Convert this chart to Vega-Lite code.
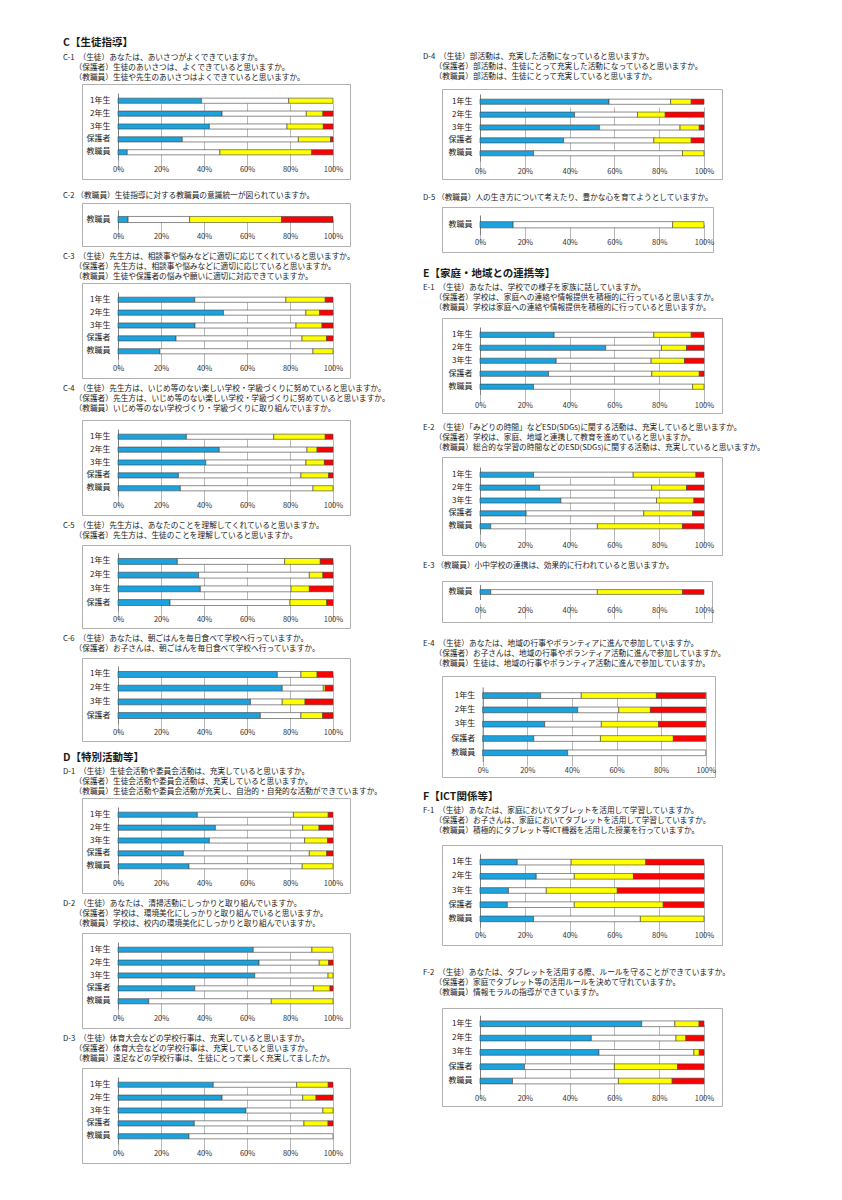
{
"$schema":"https://vega.github.io/schema/vega-lite/v6.json",
"background":"white",
"padding":{"left":62,"top":37,"right":0,"bottom":0},
"config":{
 "font":"Noto Sans CJK JP",
 "view":{"stroke":"#b0b0b0","strokeWidth":1},
 "title":{"anchor":"start","frame":"group","dx":-19,"fontSize":7.7,"lineHeight":10.3,"fontWeight":"normal","color":"#1a1a1a","offset":5,"subtitleFont":"Noto Sans CJK JP","subtitleFontSize":7.7,"subtitleLineHeight":10.3,"subtitleColor":"#1a1a1a","subtitlePadding":4},
 "axisY":{"title":null,"ticks":false,"labelPadding":8,"labelFontSize":8,"labelColor":"#1a1a1a","domainColor":"#808080","domainWidth":1,"grid":false},
 "axisX":{"title":null,"format":".0%","tickCount":5,"domain":false,"ticks":false,"tickSize":0,"labelFontSize":7.5,"labelColor":"#333333","labelFlush":false,"labelOverlap":false,"grid":true,"gridColor":"#a6a6a6","gridWidth":0.8},
 "bar":{"stroke":"#404040","strokeWidth":0.6},
 "legend":{"disable":true}
},
"datasets":{"d":[
{"q":"C-1","g":"1年生","a":38.8,"b":40.6,"c":20.6,"d":0},
{"q":"C-1","g":"2年生","a":48.4,"b":39.2,"c":7.7,"d":4.7},
{"q":"C-1","g":"3年生","a":42.5,"b":36.1,"c":16.9,"d":4.5},
{"q":"C-1","g":"保護者","a":29.9,"b":54.0,"c":15.0,"d":1.1},
{"q":"C-1","g":"教職員","a":4.3,"b":43.1,"c":42.7,"d":9.9},
{"q":"C-2","g":"教職員","a":4.7,"b":28.6,"c":42.8,"d":23.9},
{"q":"C-3","g":"1年生","a":35.7,"b":42.4,"c":18.3,"d":3.6},
{"q":"C-3","g":"2年生","a":49.1,"b":38.3,"c":6.4,"d":6.2},
{"q":"C-3","g":"3年生","a":35.8,"b":47.0,"c":12.1,"d":5.1},
{"q":"C-3","g":"保護者","a":27.0,"b":58.6,"c":11.4,"d":3.0},
{"q":"C-3","g":"教職員","a":19.5,"b":71.2,"c":9.3,"d":0},
{"q":"C-4","g":"1年生","a":31.8,"b":40.6,"c":24.0,"d":3.6},
{"q":"C-4","g":"2年生","a":47.1,"b":40.8,"c":4.7,"d":7.4},
{"q":"C-4","g":"3年生","a":40.8,"b":46.6,"c":8.6,"d":4.0},
{"q":"C-4","g":"保護者","a":28.1,"b":57.0,"c":12.9,"d":2.0},
{"q":"C-4","g":"教職員","a":29.0,"b":61.7,"c":9.3,"d":0},
{"q":"C-5","g":"1年生","a":27.6,"b":49.9,"c":16.6,"d":5.9},
{"q":"C-5","g":"2年生","a":37.5,"b":51.5,"c":6.3,"d":4.7},
{"q":"C-5","g":"3年生","a":38.3,"b":42.2,"c":8.5,"d":11.0},
{"q":"C-5","g":"保護者","a":24.2,"b":55.8,"c":17.1,"d":2.9},
{"q":"C-6","g":"1年生","a":74.1,"b":11.0,"c":7.5,"d":7.4},
{"q":"C-6","g":"2年生","a":76.4,"b":19.1,"c":0.9,"d":3.6},
{"q":"C-6","g":"3年生","a":61.6,"b":14.8,"c":10.6,"d":13.0},
{"q":"C-6","g":"保護者","a":66.2,"b":18.9,"c":10.1,"d":4.8},
{"q":"D-1","g":"1年生","a":36.9,"b":44.7,"c":16.2,"d":2.2},
{"q":"D-1","g":"2年生","a":45.3,"b":40.6,"c":7.6,"d":6.5},
{"q":"D-1","g":"3年生","a":42.5,"b":44.3,"c":10.7,"d":2.5},
{"q":"D-1","g":"保護者","a":30.4,"b":58.6,"c":8.1,"d":2.9},
{"q":"D-1","g":"教職員","a":33.0,"b":52.7,"c":14.3,"d":0},
{"q":"D-2","g":"1年生","a":62.9,"b":27.3,"c":9.8,"d":0},
{"q":"D-2","g":"2年生","a":65.6,"b":28.0,"c":4.4,"d":2.0},
{"q":"D-2","g":"3年生","a":63.6,"b":34.1,"c":2.3,"d":0},
{"q":"D-2","g":"保護者","a":35.7,"b":55.2,"c":7.7,"d":1.4},
{"q":"D-2","g":"教職員","a":14.3,"b":57.0,"c":28.7,"d":0},
{"q":"D-3","g":"1年生","a":44.3,"b":38.8,"c":14.7,"d":2.2},
{"q":"D-3","g":"2年生","a":48.4,"b":37.5,"c":6.2,"d":7.9},
{"q":"D-3","g":"3年生","a":59.5,"b":35.8,"c":4.7,"d":0},
{"q":"D-3","g":"保護者","a":35.5,"b":51.0,"c":11.2,"d":2.3},
{"q":"D-3","g":"教職員","a":33.0,"b":67.0,"c":0,"d":0},
{"q":"D-4","g":"1年生","a":57.6,"b":27.5,"c":9.2,"d":5.7},
{"q":"D-4","g":"2年生","a":42.2,"b":28.1,"c":12.4,"d":17.3},
{"q":"D-4","g":"3年生","a":53.3,"b":36.0,"c":8.6,"d":2.1},
{"q":"D-4","g":"保護者","a":37.3,"b":40.3,"c":16.7,"d":5.7},
{"q":"D-4","g":"教職員","a":23.9,"b":66.5,"c":9.6,"d":0},
{"q":"D-5","g":"教職員","a":14.8,"b":71.2,"c":14.0,"d":0},
{"q":"E-1","g":"1年生","a":33.1,"b":44.5,"c":16.7,"d":5.7},
{"q":"E-1","g":"2年生","a":56.1,"b":24.9,"c":11.2,"d":7.8},
{"q":"E-1","g":"3年生","a":34.0,"b":42.4,"c":14.9,"d":8.7},
{"q":"E-1","g":"保護者","a":30.6,"b":46.1,"c":21.2,"d":2.1},
{"q":"E-1","g":"教職員","a":23.9,"b":71.0,"c":5.1,"d":0},
{"q":"E-2","g":"1年生","a":23.9,"b":44.5,"c":28.0,"d":3.6},
{"q":"E-2","g":"2年生","a":26.6,"b":50.0,"c":15.6,"d":7.8},
{"q":"E-2","g":"3年生","a":36.1,"b":42.7,"c":16.7,"d":4.5},
{"q":"E-2","g":"保護者","a":20.6,"b":52.5,"c":21.8,"d":5.1},
{"q":"E-2","g":"教職員","a":4.8,"b":47.6,"c":38.0,"d":9.6},
{"q":"E-3","g":"教職員","a":4.8,"b":47.6,"c":38.0,"d":9.6},
{"q":"E-4","g":"1年生","a":26.0,"b":18.2,"c":33.7,"d":22.1},
{"q":"E-4","g":"2年生","a":42.6,"b":18.4,"c":14.2,"d":24.8},
{"q":"E-4","g":"3年生","a":27.8,"b":25.4,"c":25.7,"d":21.1},
{"q":"E-4","g":"保護者","a":22.9,"b":29.9,"c":32.7,"d":14.5},
{"q":"E-4","g":"教職員","a":38.1,"b":61.9,"c":0,"d":0},
{"q":"F-1","g":"1年生","a":16.6,"b":24.1,"c":33.3,"d":26.0},
{"q":"F-1","g":"2年生","a":25.1,"b":17.0,"c":26.4,"d":31.5},
{"q":"F-1","g":"3年生","a":12.7,"b":16.9,"c":31.7,"d":38.7},
{"q":"F-1","g":"保護者","a":12.2,"b":29.9,"c":39.7,"d":18.2},
{"q":"F-1","g":"教職員","a":23.9,"b":47.7,"c":28.4,"d":0},
{"q":"F-2","g":"1年生","a":72.2,"b":14.8,"c":10.8,"d":2.2},
{"q":"F-2","g":"2年生","a":49.7,"b":37.8,"c":4.4,"d":8.1},
{"q":"F-2","g":"3年生","a":53.1,"b":42.4,"c":2.4,"d":2.1},
{"q":"F-2","g":"保護者","a":19.9,"b":40.1,"c":28.2,"d":11.8},
{"q":"F-2","g":"教職員","a":14.5,"b":47.3,"c":24.0,"d":14.2}
]},
"spacing":31,
"hconcat":[
{"spacing":5,"vconcat":[
 {"width":268,"height":1,"view":{"stroke":null},"data":{"values":[]},"mark":"point","encoding":{},
  "title":{"text":"C【生徒指導】","fontSize":10.5,"fontWeight":"bold","offset":-6}},
 {"width":268,"height":95,
  "title":{"text":["C-1\u3000（生徒）あなたは、あいさつがよくできていますか。","\u200D\u3000\u2002（保護者）生徒のあいさつは、よくできていると思いますか。","\u200D\u3000\u2002（教職員）生徒や先生のあいさつはよくできていると思いますか。"],"offset":2},
  "data":{"name":"d"},
  "transform":[{"filter":"datum.q==='C-1'"},{"fold":["a","b","c","d"],"as":["k","v"]},{"filter":"datum.v>0"}],
  "mark":"bar",
  "encoding":{
   "y":{"field":"g","type":"nominal","sort":null,"scale":{"range":[9,76],"paddingInner":0.6,"paddingOuter":0.4},"axis":{"offset":-36}},
   "x":{"field":"v","type":"quantitative","stack":"normalize","scale":{"range":[36,251]},"axis":{"offset":-19,"labelPadding":5}},
   "color":{"field":"k","type":"nominal","scale":{"domain":["a","b","c","d"],"range":["#1ca3de","#ffffff","#ffff00","#ff0000"]}},
   "order":{"field":"k","sort":"ascending"}}},
 {"width":268,"height":43,
  "title":{"text":"\u3000","fontSize":5,"subtitlePadding":1,"offset":3,"subtitle":["C-2 （教職員）生徒指導に対する教職員の意識統一が図られていますか。"]},
  "data":{"name":"d"},
  "transform":[{"filter":"datum.q==='C-2'"},{"fold":["a","b","c","d"],"as":["k","v"]},{"filter":"datum.v>0"}],
  "mark":"bar",
  "encoding":{
   "y":{"field":"g","type":"nominal","sort":null,"scale":{"range":[7,26],"paddingInner":0.68,"paddingOuter":0.34},"axis":{"offset":-36}},
   "x":{"field":"v","type":"quantitative","stack":"normalize","scale":{"range":[36,251]},"axis":{"offset":-17,"labelPadding":3}},
   "color":{"field":"k","type":"nominal","scale":{"domain":["a","b","c","d"],"range":["#1ca3de","#ffffff","#ffff00","#ff0000"]}},
   "order":{"field":"k","sort":"ascending"}}},
 {"width":268,"height":95,
  "title":{"text":["C-3\u3000（生徒）先生方は、相談事や悩みなどに適切に応じてくれていると思いますか。","\u200D\u3000\u2002（保護者）先生方は、相談事や悩みなどに適切に応じていると思いますか。","\u200D\u3000\u2002（教職員）生徒や保護者の悩みや願いに適切に対応できていますか。"],"offset":2},
  "data":{"name":"d"},
  "transform":[{"filter":"datum.q==='C-3'"},{"fold":["a","b","c","d"],"as":["k","v"]},{"filter":"datum.v>0"}],
  "mark":"bar",
  "encoding":{
   "y":{"field":"g","type":"nominal","sort":null,"scale":{"range":[9,76],"paddingInner":0.6,"paddingOuter":0.4},"axis":{"offset":-36}},
   "x":{"field":"v","type":"quantitative","stack":"normalize","scale":{"range":[36,251]},"axis":{"offset":-19,"labelPadding":5}},
   "color":{"field":"k","type":"nominal","scale":{"domain":["a","b","c","d"],"range":["#1ca3de","#ffffff","#ffff00","#ff0000"]}},
   "order":{"field":"k","sort":"ascending"}}},
 {"width":268,"height":95,
  "title":{"text":["C-4\u3000（生徒）先生方は、いじめ等のない楽しい学校・学級づくりに努めていると思いますか。","\u200D\u3000\u2002（保護者）先生方は、いじめ等のない楽しい学校・学級づくりに努めていると思いますか。","\u200D\u3000\u2002（教職員）いじめ等のない学校づくり・学級づくりに取り組んでいますか。"],"offset":7},
  "data":{"name":"d"},
  "transform":[{"filter":"datum.q==='C-4'"},{"fold":["a","b","c","d"],"as":["k","v"]},{"filter":"datum.v>0"}],
  "mark":"bar",
  "encoding":{
   "y":{"field":"g","type":"nominal","sort":null,"scale":{"range":[9,76],"paddingInner":0.6,"paddingOuter":0.4},"axis":{"offset":-36}},
   "x":{"field":"v","type":"quantitative","stack":"normalize","scale":{"range":[36,251]},"axis":{"offset":-19,"labelPadding":5}},
   "color":{"field":"k","type":"nominal","scale":{"domain":["a","b","c","d"],"range":["#1ca3de","#ffffff","#ffff00","#ff0000"]}},
   "order":{"field":"k","sort":"ascending"}}},
 {"width":268,"height":83,
  "title":{"text":["C-5\u3000（生徒）先生方は、あなたのことを理解してくれていると思いますか。","\u200D\u3000\u2002（保護者）先生方は、生徒のことを理解していると思いますか。"]},
  "data":{"name":"d"},
  "transform":[{"filter":"datum.q==='C-5'"},{"fold":["a","b","c","d"],"as":["k","v"]},{"filter":"datum.v>0"}],
  "mark":"bar",
  "encoding":{
   "y":{"field":"g","type":"nominal","sort":null,"scale":{"range":[8,66],"paddingInner":0.57,"paddingOuter":0.4},"axis":{"offset":-36}},
   "x":{"field":"v","type":"quantitative","stack":"normalize","scale":{"range":[36,251]},"axis":{"offset":-17,"labelPadding":4.5}},
   "color":{"field":"k","type":"nominal","scale":{"domain":["a","b","c","d"],"range":["#1ca3de","#ffffff","#ffff00","#ff0000"]}},
   "order":{"field":"k","sort":"ascending"}}},
 {"width":268,"height":83,
  "title":{"text":["C-6\u3000（生徒）あなたは、朝ごはんを毎日食べて学校へ行っていますか。","\u200D\u3000\u2002（保護者）お子さんは、朝ごはんを毎日食べて学校へ行っていますか。"],"offset":5},
  "data":{"name":"d"},
  "transform":[{"filter":"datum.q==='C-6'"},{"fold":["a","b","c","d"],"as":["k","v"]},{"filter":"datum.v>0"}],
  "mark":"bar",
  "encoding":{
   "y":{"field":"g","type":"nominal","sort":null,"scale":{"range":[8,66],"paddingInner":0.57,"paddingOuter":0.4},"axis":{"offset":-36}},
   "x":{"field":"v","type":"quantitative","stack":"normalize","scale":{"range":[36,251]},"axis":{"offset":-17,"labelPadding":4.5}},
   "color":{"field":"k","type":"nominal","scale":{"domain":["a","b","c","d"],"range":["#1ca3de","#ffffff","#ffff00","#ff0000"]}},
   "order":{"field":"k","sort":"ascending"}}},
 {"width":268,"height":95,
  "title":{"text":["","D【特別活動等】"],"lineHeight":5,"fontSize":10.5,"fontWeight":"bold","offset":2,"subtitle":["D-1\u3000（生徒）生徒会活動や委員会活動は、充実していると思いますか。","\u200D\u3000\u2002（保護者）生徒会活動や委員会活動は、充実していると思いますか。","\u200D\u3000\u2002（教職員）生徒会活動や委員会活動が充実し、自治的・自発的な活動ができていますか。"]},
  "data":{"name":"d"},
  "transform":[{"filter":"datum.q==='D-1'"},{"fold":["a","b","c","d"],"as":["k","v"]},{"filter":"datum.v>0"}],
  "mark":"bar",
  "encoding":{
   "y":{"field":"g","type":"nominal","sort":null,"scale":{"range":[9,76],"paddingInner":0.6,"paddingOuter":0.4},"axis":{"offset":-36}},
   "x":{"field":"v","type":"quantitative","stack":"normalize","scale":{"range":[36,251]},"axis":{"offset":-19,"labelPadding":5}},
   "color":{"field":"k","type":"nominal","scale":{"domain":["a","b","c","d"],"range":["#1ca3de","#ffffff","#ffff00","#ff0000"]}},
   "order":{"field":"k","sort":"ascending"}}},
 {"width":268,"height":95,
  "title":{"text":["D-2\u3000（生徒）あなたは、清掃活動にしっかりと取り組んでいますか。","\u200D\u3000\u2002（保護者）学校は、環境美化にしっかりと取り組んでいると思いますか。","\u200D\u3000\u2002（教職員）学校は、校内の環境美化にしっかりと取り組んでいますか。"]},
  "data":{"name":"d"},
  "transform":[{"filter":"datum.q==='D-2'"},{"fold":["a","b","c","d"],"as":["k","v"]},{"filter":"datum.v>0"}],
  "mark":"bar",
  "encoding":{
   "y":{"field":"g","type":"nominal","sort":null,"scale":{"range":[9,76],"paddingInner":0.6,"paddingOuter":0.4},"axis":{"offset":-36}},
   "x":{"field":"v","type":"quantitative","stack":"normalize","scale":{"range":[36,251]},"axis":{"offset":-19,"labelPadding":5}},
   "color":{"field":"k","type":"nominal","scale":{"domain":["a","b","c","d"],"range":["#1ca3de","#ffffff","#ffff00","#ff0000"]}},
   "order":{"field":"k","sort":"ascending"}}},
 {"width":268,"height":95,
  "title":{"text":["D-3\u3000（生徒）体育大会などの学校行事は、充実していると思いますか。","\u200D\u3000\u2002（保護者）体育大会などの学校行事は、充実していると思いますか。","\u200D\u3000\u2002（教職員）遠足などの学校行事は、生徒にとって楽しく充実してましたか。"]},
  "data":{"name":"d"},
  "transform":[{"filter":"datum.q==='D-3'"},{"fold":["a","b","c","d"],"as":["k","v"]},{"filter":"datum.v>0"}],
  "mark":"bar",
  "encoding":{
   "y":{"field":"g","type":"nominal","sort":null,"scale":{"range":[9,76],"paddingInner":0.6,"paddingOuter":0.4},"axis":{"offset":-36}},
   "x":{"field":"v","type":"quantitative","stack":"normalize","scale":{"range":[36,251]},"axis":{"offset":-19,"labelPadding":5}},
   "color":{"field":"k","type":"nominal","scale":{"domain":["a","b","c","d"],"range":["#1ca3de","#ffffff","#ffff00","#ff0000"]}},
   "order":{"field":"k","sort":"ascending"}}}
]},
{"spacing":5,"vconcat":[
 {"width":280,"height":5,"view":{"stroke":null},"data":{"values":[]},"mark":"point","encoding":{}},
 {"width":280,"height":90,
  "title":{"text":["D-4\u3000（生徒）部活動は、充実した活動になっていると思いますか。","\u200D\u3000\u2002（保護者）部活動は、生徒にとって充実した活動になっていると思いますか。","\u200D\u3000\u2002（教職員）部活動は、生徒にとって充実していると思いますか。"],"offset":8},
  "data":{"name":"d"},
  "transform":[{"filter":"datum.q==='D-4'"},{"fold":["a","b","c","d"],"as":["k","v"]},{"filter":"datum.v>0"}],
  "mark":"bar",
  "encoding":{
   "y":{"field":"g","type":"nominal","sort":null,"scale":{"range":[5,72],"paddingInner":0.6,"paddingOuter":0.4},"axis":{"offset":-38}},
   "x":{"field":"v","type":"quantitative","stack":"normalize","scale":{"range":[38,262]},"axis":{"offset":-18,"labelPadding":6}},
   "color":{"field":"k","type":"nominal","scale":{"domain":["a","b","c","d"],"range":["#1ca3de","#ffffff","#ffff00","#ff0000"]}},
   "order":{"field":"k","sort":"ascending"}}},
 {"width":271,"height":45,
  "title":{"text":"\u3000","fontSize":7,"subtitlePadding":1,"offset":5,"subtitle":["D-5 （教職員）人の生き方について考えたり、豊かな心を育てようとしていますか。"]},
  "data":{"name":"d"},
  "transform":[{"filter":"datum.q==='D-5'"},{"fold":["a","b","c","d"],"as":["k","v"]},{"filter":"datum.v>0"}],
  "mark":"bar",
  "encoding":{
   "y":{"field":"g","type":"nominal","sort":null,"scale":{"range":[8,27.5],"paddingInner":0.68,"paddingOuter":0.34},"axis":{"offset":-38}},
   "x":{"field":"v","type":"quantitative","stack":"normalize","scale":{"range":[38,262]},"axis":{"offset":-17.5,"labelPadding":4}},
   "color":{"field":"k","type":"nominal","scale":{"domain":["a","b","c","d"],"range":["#1ca3de","#ffffff","#ffff00","#ff0000"]}},
   "order":{"field":"k","sort":"ascending"}}},
 {"width":280,"height":95,
  "title":{"text":["","E【家庭・地域との連携等】"],"lineHeight":10,"fontSize":10.5,"fontWeight":"bold","offset":6,"subtitle":["E-1\u3000（生徒）あなたは、学校での様子を家族に話していますか。","\u200D\u3000\u2002（保護者）学校は、家庭への連絡や情報提供を積極的に行っていると思いますか。","\u200D\u3000\u2002（教職員）学校は家庭への連絡や情報提供を積極的に行っていると思いますか。"]},
  "data":{"name":"d"},
  "transform":[{"filter":"datum.q==='E-1'"},{"fold":["a","b","c","d"],"as":["k","v"]},{"filter":"datum.v>0"}],
  "mark":"bar",
  "encoding":{
   "y":{"field":"g","type":"nominal","sort":null,"scale":{"range":[9,76.5],"paddingInner":0.6,"paddingOuter":0.4},"axis":{"offset":-38}},
   "x":{"field":"v","type":"quantitative","stack":"normalize","scale":{"range":[38,262]},"axis":{"offset":-18.5,"labelPadding":7}},
   "color":{"field":"k","type":"nominal","scale":{"domain":["a","b","c","d"],"range":["#1ca3de","#ffffff","#ffff00","#ff0000"]}},
   "order":{"field":"k","sort":"ascending"}}},
 {"width":280,"height":98,
  "title":{"text":"\u3000","fontSize":3,"subtitlePadding":1,"offset":5,"subtitle":["E-2\u3000（生徒）「みどりの時間」などESD(SDGs)に関する活動は、充実していると思いますか。","\u200D\u3000\u2002（保護者）学校は、家庭、地域と連携して教育を進めていると思いますか。","\u200D\u3000\u2002（教職員）総合的な学習の時間などのESD(SDGs)に関する活動は、充実していると思いますか。"]},
  "data":{"name":"d"},
  "transform":[{"filter":"datum.q==='E-2'"},{"fold":["a","b","c","d"],"as":["k","v"]},{"filter":"datum.v>0"}],
  "mark":"bar",
  "encoding":{
   "y":{"field":"g","type":"nominal","sort":null,"scale":{"range":[10,77],"paddingInner":0.6,"paddingOuter":0.4},"axis":{"offset":-38}},
   "x":{"field":"v","type":"quantitative","stack":"normalize","scale":{"range":[38,262]},"axis":{"offset":-21,"labelPadding":7}},
   "color":{"field":"k","type":"nominal","scale":{"domain":["a","b","c","d"],"range":["#1ca3de","#ffffff","#ffff00","#ff0000"]}},
   "order":{"field":"k","sort":"ascending"}}},
 {"width":270,"height":41,
  "title":{"text":["E-3 （教職員）小中学校の連携は、効果的に行われていると思いますか。"],"offset":11},
  "data":{"name":"d"},
  "transform":[{"filter":"datum.q==='E-3'"},{"fold":["a","b","c","d"],"as":["k","v"]},{"filter":"datum.v>0"}],
  "mark":"bar",
  "encoding":{
   "y":{"field":"g","type":"nominal","sort":null,"scale":{"range":[3.5,18.5],"paddingInner":0.68,"paddingOuter":0.34},"axis":{"offset":-38}},
   "x":{"field":"v","type":"quantitative","stack":"normalize","scale":{"range":[38,262]},"axis":{"offset":-22.5,"labelPadding":7}},
   "color":{"field":"k","type":"nominal","scale":{"domain":["a","b","c","d"],"range":["#1ca3de","#ffffff","#ffff00","#ff0000"]}},
   "order":{"field":"k","sort":"ascending"}}},
 {"width":273,"height":101,
  "title":{"text":"\u3000","fontSize":10,"subtitlePadding":1,"offset":8,"subtitle":["E-4\u3000（生徒）あなたは、地域の行事やボランティアに進んで参加していますか。","\u200D\u3000\u2002（保護者）お子さんは、地域の行事やボランティア活動に進んで参加していますか。","\u200D\u3000\u2002（教職員）生徒は、地域の行事やボランティア活動に進んで参加していますか。"]},
  "data":{"name":"d"},
  "transform":[{"filter":"datum.q==='E-4'"},{"fold":["a","b","c","d"],"as":["k","v"]},{"filter":"datum.v>0"}],
  "mark":"bar",
  "encoding":{
   "y":{"field":"g","type":"nominal","sort":null,"scale":{"range":[11,85.4],"paddingInner":0.6,"paddingOuter":0.4},"axis":{"offset":-40.7}},
   "x":{"field":"v","type":"quantitative","stack":"normalize","scale":{"range":[40.7,263.7]},"axis":{"offset":-15.6,"labelPadding":4.6}},
   "color":{"field":"k","type":"nominal","scale":{"domain":["a","b","c","d"],"range":["#1ca3de","#ffffff","#ffff00","#ff0000"]}},
   "order":{"field":"k","sort":"ascending"}}},
 {"width":280,"height":100,
  "title":{"text":["","F【ICT関係等】"],"lineHeight":8.5,"fontSize":10.5,"fontWeight":"bold","offset":10,"subtitle":["F-1\u3000（生徒）あなたは、家庭においてタブレットを活用して学習していますか。","\u200D\u3000\u2002（保護者）お子さんは、家庭においてタブレットを活用して学習していますか。","\u200D\u3000\u2002（教職員）積極的にタブレット等ICT機器を活用した授業を行っていますか。"]},
  "data":{"name":"d"},
  "transform":[{"filter":"datum.q==='F-1'"},{"fold":["a","b","c","d"],"as":["k","v"]},{"filter":"datum.v>0"}],
  "mark":"bar",
  "encoding":{
   "y":{"field":"g","type":"nominal","sort":null,"scale":{"range":[8.6,82.4],"paddingInner":0.6,"paddingOuter":0.4},"axis":{"offset":-38}},
   "x":{"field":"v","type":"quantitative","stack":"normalize","scale":{"range":[38,262]},"axis":{"offset":-17.6,"labelPadding":4.3}},
   "color":{"field":"k","type":"nominal","scale":{"domain":["a","b","c","d"],"range":["#1ca3de","#ffffff","#ffff00","#ff0000"]}},
   "order":{"field":"k","sort":"ascending"}}},
 {"width":280,"height":98,
  "title":{"text":"\u3000","fontSize":16,"subtitlePadding":1,"offset":11,"subtitle":["F-2\u3000（生徒）あなたは、タブレットを活用する際、ルールを守ることができていますか。","\u200D\u3000\u2002（保護者）家庭でタブレット等の活用ルールを決めて守れていますか。","\u200D\u3000\u2002（教職員）情報モラルの指導ができていますか。"]},
  "data":{"name":"d"},
  "transform":[{"filter":"datum.q==='F-2'"},{"fold":["a","b","c","d"],"as":["k","v"]},{"filter":"datum.v>0"}],
  "mark":"bar",
  "encoding":{
   "y":{"field":"g","type":"nominal","sort":null,"scale":{"range":[7.2,81.6],"paddingInner":0.6,"paddingOuter":0.4},"axis":{"offset":-38}},
   "x":{"field":"v","type":"quantitative","stack":"normalize","scale":{"range":[38,262]},"axis":{"offset":-16.4,"labelPadding":4.4}},
   "color":{"field":"k","type":"nominal","scale":{"domain":["a","b","c","d"],"range":["#1ca3de","#ffffff","#ffff00","#ff0000"]}},
   "order":{"field":"k","sort":"ascending"}}}
]}
]
}
